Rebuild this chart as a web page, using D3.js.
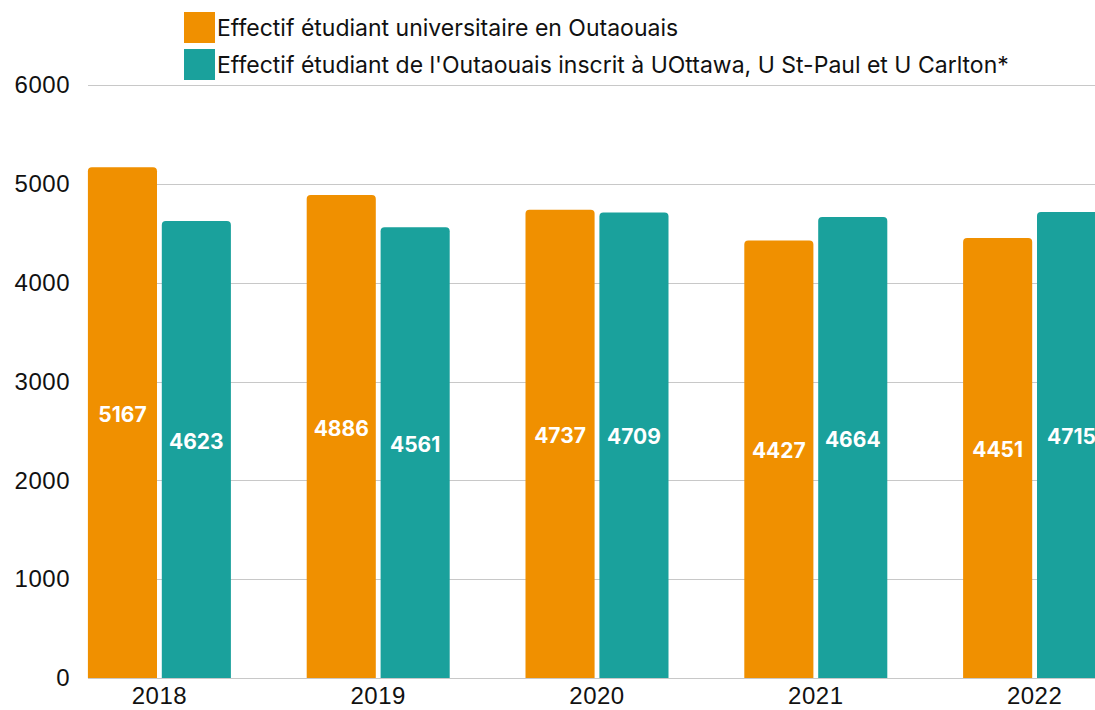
<!DOCTYPE html>
<html>
<head>
<meta charset="utf-8">
<script src="https://cdn.jsdelivr.net/npm/d3@7"></script>
<style>
  body { margin: 0; background: #fff; }
  svg { display: block; font-family: Inter, "Noto Sans", sans-serif; }
  .tick text { fill: #111; font-size: 24px; letter-spacing: 0.5px; }
  .grid line { stroke: #c8c8c8; }
  .value { fill: #fff; font-size: 21px; font-weight: 700; }
  .legend text { fill: #111; font-size: 23px; }
</style>
</head>
<body>
<svg width="1095" height="710"></svg>
<script>
// data
const years = ['2018', '2019', '2020', '2021', '2022'];
const seriesNames = [
  "Effectif étudiant universitaire en Outaouais",
  "Effectif étudiant de l'Outaouais inscrit à UOttawa, U St-Paul et U Carlton*"
];
const outaouais = [5167, 4886, 4737, 4427, 4451];
const ontario = [4623, 4561, 4709, 4664, 4715];
const yTicks = [0, 1000, 2000, 3000, 4000, 5000, 6000];
const colors = ['#F09000', '#1AA19C'];

const svg = d3.select('svg');
const plotTop = 85, plotBottom = 678, plotLeft = 88, plotRight = 1095;

const yScale = d3.scaleLinear().domain([0, 6000]).range([plotBottom, plotTop]);
const x0 = d3.scaleBand().domain(years).range([50, 1144]);
const groupWidth = 143;
const x1 = d3.scaleBand().domain([0, 1]).range([0, groupWidth]).paddingInner(0.065);

// grid lines
svg.append('g')
  .attr('class', 'grid')
  .selectAll('line')
  .data(yTicks)
  .enter()
  .append('line')
  .attr('x1', plotLeft)
  .attr('x2', plotRight)
  .attr('y1', d => Math.round(yScale(d)) + 0.5)
  .attr('y2', d => Math.round(yScale(d)) + 0.5);

// y axis labels
const yAxis = svg.append('g')
  .attr('transform', `translate(${plotLeft}, 0)`)
  .call(d3.axisLeft(yScale).tickValues(yTicks).tickSize(0).tickPadding(18).tickFormat(d3.format('d')));
yAxis.select('.domain').remove();

// x axis labels
const xAxis = svg.append('g')
  .attr('transform', `translate(0, ${plotBottom})`)
  .call(d3.axisBottom(x0).tickSize(0).tickPadding(9));
xAxis.select('.domain').remove();

// bars
const rows = [];
years.forEach((y, i) => {
  rows.push({ year: y, s: 0, value: outaouais[i] });
  rows.push({ year: y, s: 1, value: ontario[i] });
});

function barPath(x, y, w, h, r) {
  return `M${x},${y + h} V${y + r} Q${x},${y} ${x + r},${y} H${x + w - r} Q${x + w},${y} ${x + w},${y + r} V${y + h} Z`;
}

const offset = (x0.bandwidth() - groupWidth) / 2;

const bars = svg.append('g')
  .selectAll('g')
  .data(rows)
  .enter()
  .append('g');

bars.append('path')
  .attr('fill', d => colors[d.s])
  .attr('d', d => {
    const x = x0(d.year) + offset + x1(d.s);
    const y = yScale(d.value);
    return barPath(x, y, x1.bandwidth(), plotBottom - y, 4);
  });

bars.append('text')
  .attr('class', 'value')
  .attr('text-anchor', 'middle')
  .attr('x', d => x0(d.year) + offset + x1(d.s) + x1.bandwidth() / 2)
  .attr('y', d => (yScale(d.value) + plotBottom) / 2 - 1)
  .text(d => d.value);

// legend
const legend = svg.append('g').attr('class', 'legend');
seriesNames.forEach((name, i) => {
  legend.append('rect')
    .attr('x', 184)
    .attr('y', 12 + i * 37)
    .attr('width', 31)
    .attr('height', 31)
    .attr('fill', colors[i]);
  legend.append('text')
    .attr('x', 217)
    .attr('y', 36 + i * 37)
    .text(name);
});
</script>
</body>
</html>
